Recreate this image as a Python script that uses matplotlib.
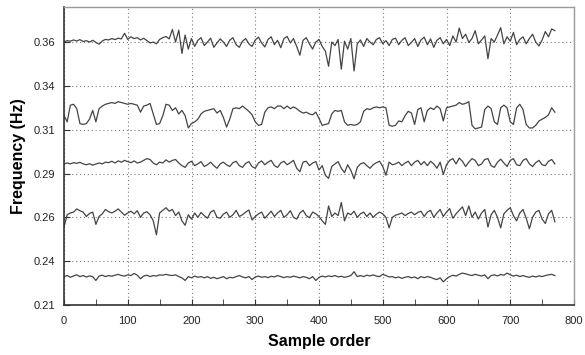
# Frequency vs sample order, five tracked modes

import numpy as np
import matplotlib
matplotlib.use('Agg')
import matplotlib.pyplot as plt

plt.rcParams['font.family'] = ['Liberation Sans', 'DejaVu Sans']

# sample order (read every 5 samples off the picture)
sample_order = np.arange(0, 771, 5)

freq_mode1 = [
    0.3600, 0.3608, 0.3605, 0.3612, 0.3606, 0.3614, 0.3603, 0.3608, 0.3600, 0.3610,
    0.3598, 0.3588, 0.3606, 0.3615, 0.3612, 0.3620, 0.3614, 0.3622, 0.3618, 0.3650,
    0.3615, 0.3630, 0.3620, 0.3625, 0.3612, 0.3622, 0.3608, 0.3595, 0.3600, 0.3590,
    0.3615, 0.3625, 0.3632, 0.3618, 0.3672, 0.3600, 0.3668, 0.3535, 0.3640, 0.3560,
    0.3620, 0.3575, 0.3610, 0.3625, 0.3580, 0.3600, 0.3622, 0.3570, 0.3595, 0.3618,
    0.3600, 0.3575, 0.3610, 0.3625, 0.3585, 0.3570, 0.3605, 0.3620, 0.3590, 0.3575,
    0.3612, 0.3628, 0.3595, 0.3572, 0.3615, 0.3630, 0.3585, 0.3610, 0.3568, 0.3620,
    0.3632, 0.3595, 0.3620, 0.3575, 0.3525, 0.3610, 0.3625, 0.3590, 0.3560, 0.3600,
    0.3615, 0.3575, 0.3548, 0.3462, 0.3600, 0.3580, 0.3615, 0.3445, 0.3605, 0.3560,
    0.3620, 0.3435, 0.3590, 0.3612, 0.3575, 0.3620, 0.3600, 0.3585, 0.3615, 0.3625,
    0.3590, 0.3608, 0.3580, 0.3615, 0.3622, 0.3585, 0.3610, 0.3625, 0.3580, 0.3598,
    0.3620, 0.3575, 0.3612, 0.3628, 0.3585, 0.3618, 0.3570, 0.3610, 0.3625, 0.3590,
    0.3615, 0.3580, 0.3635, 0.3600, 0.3680, 0.3620, 0.3645, 0.3598, 0.3620, 0.3665,
    0.3590, 0.3612, 0.3635, 0.3505, 0.3620, 0.3600, 0.3640, 0.3682, 0.3590, 0.3630,
    0.3605, 0.3655, 0.3585, 0.3615, 0.3630, 0.3590, 0.3620, 0.3645, 0.3600, 0.3578,
    0.3612, 0.3660, 0.3630, 0.3675, 0.3665]

freq_mode2 = [
    0.3180, 0.3145, 0.3240, 0.3245, 0.3220, 0.3135, 0.3130, 0.3135, 0.3160, 0.3210,
    0.3145, 0.3220, 0.3235, 0.3245, 0.3250, 0.3255, 0.3250, 0.3260, 0.3255, 0.3250,
    0.3245, 0.3250, 0.3245, 0.3240, 0.3200, 0.3235, 0.3240, 0.3250, 0.3190, 0.3130,
    0.3135, 0.3180, 0.3245, 0.3240, 0.3210, 0.3225, 0.3190, 0.3210, 0.3180, 0.3110,
    0.3135, 0.3145, 0.3160, 0.3190, 0.3205, 0.3210, 0.3215, 0.3220, 0.3195, 0.3210,
    0.3170, 0.3115, 0.3160, 0.3220, 0.3225, 0.3220, 0.3235, 0.3220, 0.3205, 0.3185,
    0.3145, 0.3125, 0.3130, 0.3200, 0.3225, 0.3230, 0.3220, 0.3235, 0.3235, 0.3220,
    0.3235, 0.3220, 0.3230, 0.3220, 0.3205, 0.3195, 0.3200, 0.3190, 0.3185, 0.3200,
    0.3165, 0.3125, 0.3130, 0.3135, 0.3190, 0.3210, 0.3205, 0.3210, 0.3145, 0.3125,
    0.3130, 0.3125, 0.3130, 0.3145, 0.3205, 0.3220, 0.3215, 0.3225, 0.3230, 0.3225,
    0.3230, 0.3225, 0.3125, 0.3120, 0.3125, 0.3150, 0.3145, 0.3180, 0.3205, 0.3195,
    0.3130, 0.3215, 0.3225, 0.3145, 0.3210, 0.3225, 0.3215, 0.3235, 0.3220, 0.3150,
    0.3225, 0.3230, 0.3235, 0.3240, 0.3255, 0.3245, 0.3250, 0.3260, 0.3125, 0.3105,
    0.3110, 0.3115, 0.3215, 0.3235, 0.3220, 0.3145, 0.3130, 0.3225, 0.3240, 0.3225,
    0.3145, 0.3130, 0.3225, 0.3245, 0.3215, 0.3130, 0.3110, 0.3110, 0.3125, 0.3150,
    0.3160, 0.3170, 0.3185, 0.3225, 0.3200]

freq_mode3 = [
    0.2905, 0.2910, 0.2905, 0.2912, 0.2908, 0.2914, 0.2905, 0.2900, 0.2906, 0.2898,
    0.2904, 0.2910, 0.2905, 0.2915, 0.2912, 0.2920, 0.2910, 0.2922, 0.2915, 0.2925,
    0.2918, 0.2912, 0.2922, 0.2910, 0.2915, 0.2925, 0.2935, 0.2930, 0.2910, 0.2900,
    0.2915, 0.2910, 0.2928, 0.2915, 0.2925, 0.2930, 0.2910, 0.2895, 0.2885, 0.2910,
    0.2920, 0.2895, 0.2905, 0.2918, 0.2890, 0.2900, 0.2915, 0.2895, 0.2880, 0.2905,
    0.2915, 0.2900, 0.2890, 0.2912, 0.2920, 0.2895, 0.2885, 0.2908, 0.2918, 0.2890,
    0.2880, 0.2910, 0.2922, 0.2900, 0.2915, 0.2925, 0.2895, 0.2885, 0.2910, 0.2920,
    0.2900, 0.2912, 0.2925, 0.2880, 0.2860, 0.2915, 0.2920, 0.2895, 0.2910, 0.2918,
    0.2870, 0.2895, 0.2840, 0.2822, 0.2890, 0.2905, 0.2918, 0.2880, 0.2855, 0.2900,
    0.2868, 0.2820, 0.2885, 0.2905, 0.2912, 0.2895, 0.2880, 0.2900, 0.2912, 0.2920,
    0.2890, 0.2840, 0.2915, 0.2900, 0.2905, 0.2915, 0.2895, 0.2910, 0.2920, 0.2895,
    0.2915, 0.2925, 0.2900, 0.2918, 0.2895, 0.2920, 0.2905, 0.2880, 0.2915, 0.2845,
    0.2900, 0.2925, 0.2935, 0.2905, 0.2938, 0.2920, 0.2890, 0.2915, 0.2935, 0.2925,
    0.2895, 0.2905, 0.2930, 0.2935, 0.2895, 0.2885, 0.2915, 0.2932, 0.2910, 0.2890,
    0.2925, 0.2935, 0.2900, 0.2895, 0.2925, 0.2935, 0.2905, 0.2890, 0.2912, 0.2925,
    0.2900, 0.2895, 0.2920, 0.2930, 0.2905]

freq_mode4 = [
    0.2545, 0.2615, 0.2625, 0.2630, 0.2648, 0.2638, 0.2630, 0.2605, 0.2622, 0.2630,
    0.2560, 0.2605, 0.2620, 0.2645, 0.2632, 0.2625, 0.2635, 0.2648, 0.2630, 0.2612,
    0.2625, 0.2635, 0.2620, 0.2638, 0.2600, 0.2625, 0.2632, 0.2615, 0.2580, 0.2500,
    0.2625, 0.2640, 0.2655, 0.2635, 0.2645, 0.2610, 0.2630, 0.2580, 0.2555, 0.2615,
    0.2590, 0.2625, 0.2600, 0.2628, 0.2610, 0.2595, 0.2630, 0.2640, 0.2600, 0.2595,
    0.2618, 0.2630, 0.2600, 0.2615, 0.2640, 0.2605, 0.2615, 0.2630, 0.2642, 0.2585,
    0.2605, 0.2620, 0.2630, 0.2595, 0.2615, 0.2635, 0.2605, 0.2625, 0.2640, 0.2600,
    0.2615, 0.2638, 0.2600, 0.2590, 0.2625, 0.2640, 0.2610, 0.2598, 0.2630, 0.2620,
    0.2605, 0.2580, 0.2560, 0.2665, 0.2605, 0.2625, 0.2610, 0.2685, 0.2580, 0.2625,
    0.2615, 0.2635, 0.2600, 0.2620, 0.2630, 0.2605, 0.2625, 0.2600, 0.2618, 0.2630,
    0.2620, 0.2600, 0.2540, 0.2600, 0.2612, 0.2618, 0.2625, 0.2610, 0.2622, 0.2630,
    0.2615, 0.2628, 0.2635, 0.2605, 0.2630, 0.2640, 0.2600, 0.2625, 0.2645, 0.2605,
    0.2630, 0.2650, 0.2595, 0.2620, 0.2640, 0.2660, 0.2610, 0.2665, 0.2600, 0.2630,
    0.2590, 0.2625, 0.2645, 0.2545, 0.2615, 0.2640, 0.2600, 0.2540, 0.2620, 0.2640,
    0.2655, 0.2610, 0.2580, 0.2625, 0.2645, 0.2595, 0.2535, 0.2600, 0.2630, 0.2640,
    0.2590, 0.2565, 0.2620, 0.2640, 0.2575]

freq_mode5 = [
    0.2262, 0.2268, 0.2258, 0.2266, 0.2272, 0.2262, 0.2268, 0.2260, 0.2266, 0.2262,
    0.2240, 0.2265, 0.2270, 0.2262, 0.2268, 0.2264, 0.2270, 0.2275, 0.2268, 0.2265,
    0.2272, 0.2268, 0.2280, 0.2270, 0.2250, 0.2265, 0.2270, 0.2262, 0.2268, 0.2265,
    0.2272, 0.2270, 0.2275, 0.2270, 0.2268, 0.2272, 0.2262, 0.2255, 0.2240, 0.2262,
    0.2255, 0.2265, 0.2258, 0.2262, 0.2255, 0.2262, 0.2252, 0.2258, 0.2250, 0.2256,
    0.2262, 0.2250, 0.2258, 0.2255, 0.2262, 0.2268, 0.2260, 0.2255, 0.2262, 0.2245,
    0.2260, 0.2265, 0.2258, 0.2262, 0.2256, 0.2264, 0.2260, 0.2268, 0.2262, 0.2256,
    0.2262, 0.2258, 0.2265, 0.2260, 0.2255, 0.2262, 0.2258, 0.2250, 0.2262, 0.2240,
    0.2258, 0.2265, 0.2260, 0.2266, 0.2262, 0.2268, 0.2260, 0.2264, 0.2258, 0.2262,
    0.2268, 0.2290, 0.2262, 0.2268, 0.2262, 0.2270, 0.2266, 0.2272, 0.2265, 0.2262,
    0.2275, 0.2268, 0.2260, 0.2262, 0.2255, 0.2260, 0.2252, 0.2258, 0.2262, 0.2255,
    0.2260, 0.2250, 0.2262, 0.2256, 0.2262, 0.2258, 0.2250, 0.2245, 0.2255, 0.2232,
    0.2250, 0.2262, 0.2270, 0.2265, 0.2275, 0.2282, 0.2278, 0.2272, 0.2268, 0.2275,
    0.2270, 0.2265, 0.2272, 0.2250, 0.2268, 0.2272, 0.2266, 0.2274, 0.2270, 0.2282,
    0.2272, 0.2265, 0.2270, 0.2262, 0.2268, 0.2262, 0.2258, 0.2265, 0.2260, 0.2266,
    0.2262, 0.2268, 0.2272, 0.2275, 0.2268]

# y ticks are evenly spaced, labels were rounded to 2 decimals in the original
ytick_vals = [0.21, 0.235, 0.26, 0.285, 0.31, 0.335, 0.36]
ytick_labels = ['0.21', '0.24', '0.26', '0.29', '0.31', '0.34', '0.36']
xtick_vals = [0, 100, 200, 300, 400, 500, 600, 700, 800]

if __name__ == '__main__':
    fig = plt.figure(figsize=(5.85, 3.55), dpi=100)
    ax = fig.add_axes([64 / 585, 50 / 355, 510 / 585, 298 / 355])

    for series in [freq_mode1, freq_mode2, freq_mode3, freq_mode4, freq_mode5]:
        ax.plot(sample_order, series, color='#444444', lw=0.9)

    ax.set_xlim(0, 800)
    ax.set_ylim(0.21, 0.38)
    ax.set_xticks(xtick_vals)
    ax.set_xticks(np.arange(50, 800, 100), minor=True)
    ax.set_yticks(ytick_vals)
    ax.set_yticklabels(ytick_labels)

    ax.grid(True, which='major', color='#7a7a7a', linestyle=(0, (1, 2.5)), lw=0.8)
    ax.tick_params(axis='both', which='both', direction='in', length=4,
                   color='#333333', labelsize=8, labelcolor='#222222')
    ax.tick_params(axis='x', pad=8)
    ax.tick_params(axis='y', pad=6.5)

    for side in ['left', 'bottom']:
        ax.spines[side].set_color('#333333')
        ax.spines[side].set_linewidth(1.2)
    for side in ['top', 'right']:
        ax.spines[side].set_color('#9a9a9a')
        ax.spines[side].set_linewidth(1.0)

    ax.set_xlabel('Sample order', fontsize=11.5, fontweight='bold', labelpad=6)
    ax.set_ylabel('Frequency (Hz)', fontsize=11.5, fontweight='bold', labelpad=5)

    fig.savefig('out.png', dpi=100)
